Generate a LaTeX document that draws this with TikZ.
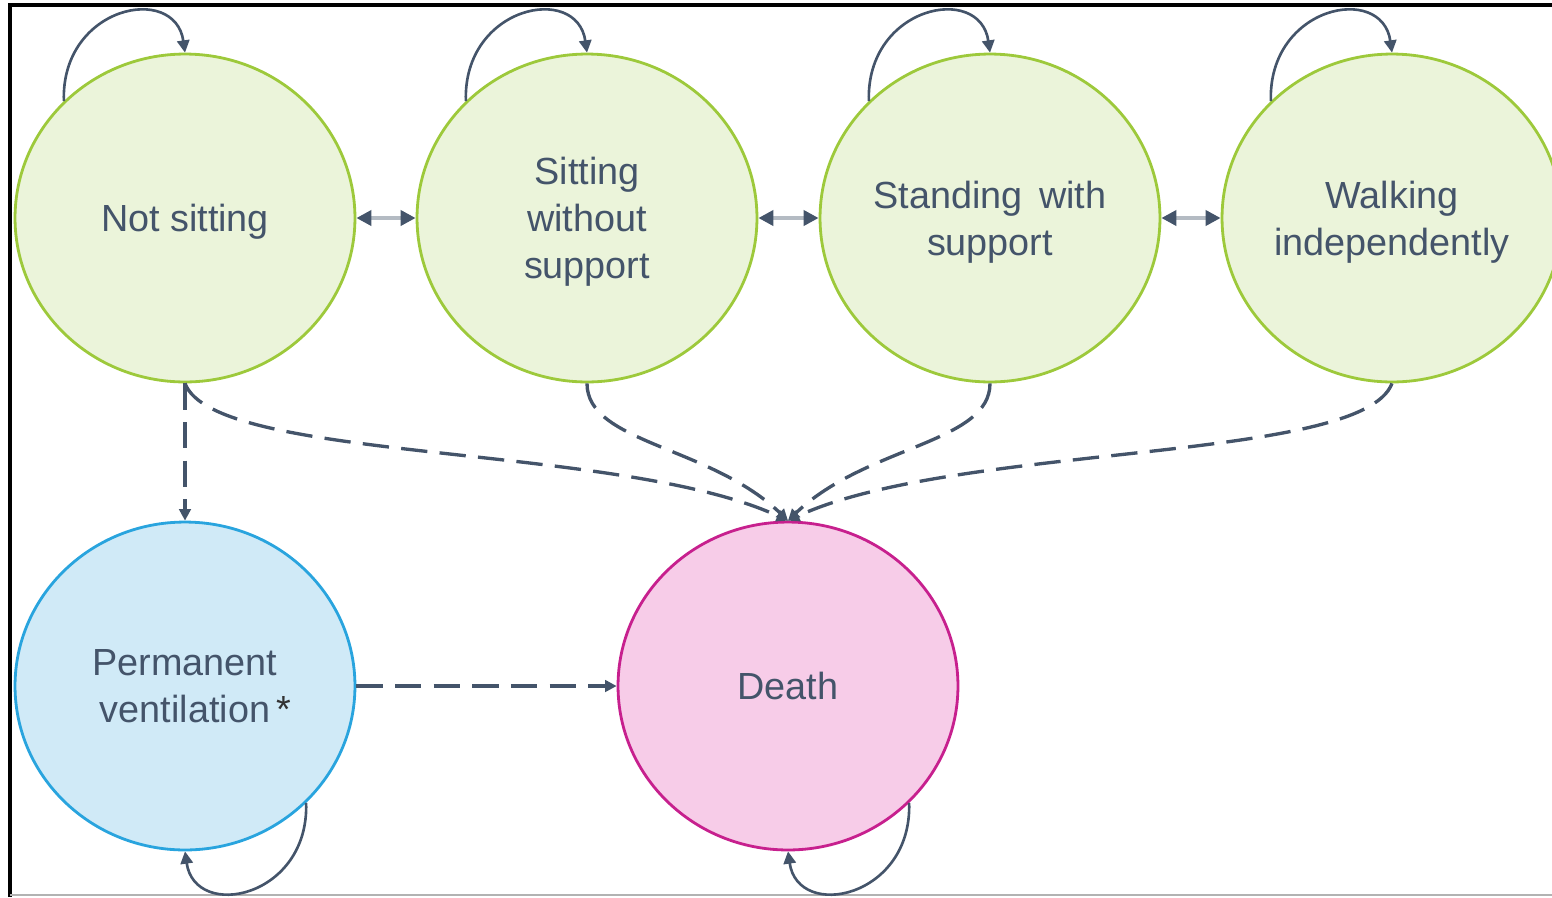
\documentclass[tikz,border=0pt]{standalone}
\usepackage{fontspec}
\setmainfont{Liberation Sans}
\usetikzlibrary{shapes.geometric,arrows.meta}

\definecolor{slate}{HTML}{44546A}
\definecolor{gfill}{HTML}{EBF4DA}
\definecolor{gline}{HTML}{9DC93B}
\definecolor{vfill}{HTML}{D0EAF7}
\definecolor{vline}{HTML}{29A4DE}
\definecolor{dfill}{HTML}{F7CCE8}
\definecolor{dline}{HTML}{C7208E}

\begin{document}
\begin{tikzpicture}[
  x=0.02cm, y=-0.02cm,
  state/.style={
    ellipse, minimum width=6.8cm, minimum height=6.56cm,
    inner sep=0pt, line width=1.6pt, align=center, text depth=0pt,
    font=\fontsize{21.5}{26.7}\selectfont, text=slate,
  },
  Gstate/.style={state, draw=gline, fill=gfill},
  Vstate/.style={state, draw=vline, fill=vfill},
  Dstate/.style={state, draw=dline, fill=dfill},
  selfloop/.style={draw=slate, line width=1.5pt,
    -{Triangle[length=7pt, width=7pt]}},
  bothway/.style={draw=slate!40, line width=2.2pt,
    {Triangle[length=8.5pt, width=8.5pt, color=slate]}-{Triangle[length=8.5pt, width=8.5pt, color=slate]}},
  dashto/.style={draw=slate, line width=1.9pt, dash pattern=on 15pt off 7pt,
    -{Triangle[length=6.5pt, width=6.5pt]}},
]

% page = 1552 x 897 px
\useasboundingbox (0,0) rectangle (1552,897);

% frame
\draw[line width=1.9pt] (10,897) -- (10,5) -- (1552,5);
\draw[black!30, line width=1pt] (10,895) -- (1552,895);

% motor states
\node[Gstate] (ns)  at (185, 218)  {Not sitting};
\node[Gstate] (sws) at (587, 218)  {Sitting\\without\\support};
\node[Gstate] (sts) at (990, 218)  {Standing \,with\\support};
\node[Gstate] (wi)  at (1392, 218) {Walking\\independently};

% absorbing states
\node[Vstate] (pv)    at (185, 686) {Permanent\\ventilation\rlap{\,{\color{black!80}*}}};
\node[Dstate] (death) at (788, 686) {Death};

% stay in the same state
\foreach \n in {ns, sws, sts, wi}
  \draw[selfloop] (\n.136) .. controls +(-3,-95) and +(-10,-70) .. (\n.north);
\foreach \n in {pv, death}
  \draw[selfloop] (\n.316) .. controls +(3,95) and +(10,70) .. (\n.south);

% move up or down one level
\foreach \a/\b in {ns/sws, sws/sts, sts/wi}
  \draw[bothway] (\a) -- (\b);

% to ventilation and death
\draw[dashto] (ns.south) -- (pv.north);
\draw[dashto] (pv.east) -- (death.west);
\draw[dashto] (ns.south)  .. controls +(30,80)  and +(-168,-78) .. (death.north);
\draw[dashto] (sws.south) .. controls +(0,60)   and +(-78,-75)  .. (death.north);
\draw[dashto] (sts.south) .. controls +(0,60)   and +(78,-75)   .. (death.north);
\draw[dashto] (wi.south)  .. controls +(-30,80) and +(168,-78)  .. (death.north);

\end{tikzpicture}
\end{document}
